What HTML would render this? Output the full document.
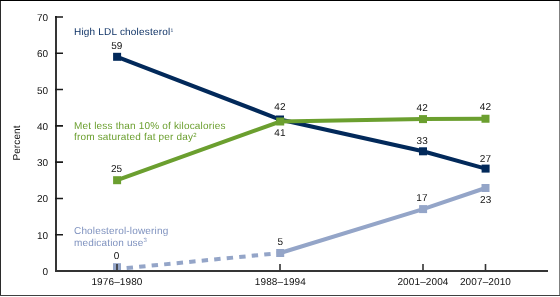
<!DOCTYPE html>
<html><head><meta charset="utf-8">
<style>
html,body{margin:0;padding:0;background:#fff;}
body{width:560px;height:297px;overflow:hidden;}
svg{display:block;}
#wrap{position:absolute;left:0;top:0;width:560px;height:297px;will-change:transform;background:#fff;}
text{font-family:"Liberation Sans",sans-serif;text-rendering:geometricPrecision;}
</style></head><body><div id="wrap">
<svg width="560" height="297" viewBox="0 0 560 297">
<rect x="0" y="0" width="560" height="297" fill="#fff"/>
<!-- border -->
<path d="M559.5 0V295" stroke="#808080" stroke-width="1"/>
<path d="M0.5 0V296" stroke="#2b2b2b" stroke-width="1"/>
<path d="M0 295.5H560" stroke="#404040" stroke-width="1"/>
<path d="M0 0.5H560" stroke="#000" stroke-width="1"/>

<!-- axes -->
<g stroke="#353535" stroke-width="2" fill="none">
  <path d="M56 16V272"/>
  <path d="M55 271H548"/>
</g>
<g stroke="#1a1a1a" stroke-width="1.6" fill="none">
  <path d="M55 17H63M55 53.29H63M55 89.57H63M55 125.86H63M55 162.14H63M55 198.43H63M55 234.71H63"/>
</g>
<g stroke="#333" stroke-width="1.6" fill="none">
  <path d="M117 264V271M280 264V271M423 264V271M485.5 264V271"/>
</g>

<!-- y labels -->
<g font-size="10" fill="#111" text-anchor="end">
  <text x="48" y="21">70</text>
  <text x="48" y="57.3">60</text>
  <text x="48" y="93.6">50</text>
  <text x="48" y="129.9">40</text>
  <text x="48" y="166.1">30</text>
  <text x="48" y="202.4">20</text>
  <text x="48" y="238.7">10</text>
  <text x="48" y="275">0</text>
</g>
<text font-size="10" letter-spacing="0.1" fill="#111" text-anchor="middle" transform="translate(19.8,143) rotate(-90)">Percent</text>

<!-- x labels -->
<g font-size="10" letter-spacing="0.12" fill="#111" text-anchor="middle">
  <text x="117" y="285.3">1976–1980</text>
  <text x="280.4" y="285.3">1988–1994</text>
  <text x="423" y="285.3">2001–2004</text>
  <text x="485.5" y="285.3">2007–2010</text>
</g>

<!-- series: light blue -->
<g fill="#94a5c8" stroke="none">
  <rect x="113" y="263.2" width="8" height="8"/>
</g>
<path d="M117 269L280.2 253" stroke="#94a5c8" stroke-width="4" fill="none" stroke-dasharray="6.4 6.17" stroke-dashoffset="2.9"/>
<path d="M280.2 253L423.1 209.1L485.5 188" stroke="#94a5c8" stroke-width="4" fill="none"/>
<g fill="#94a5c8">
  <rect x="276.2" y="249" width="8" height="8"/>
  <rect x="419.1" y="205.1" width="8" height="8"/>
  <rect x="481.5" y="184" width="8" height="8"/>
</g>
<!-- redraw axis over marker 0 -->
<path d="M55 271H130" stroke="#333" stroke-width="2"/>
<path d="M117 264V271" stroke="#333" stroke-width="1.6"/>

<!-- navy -->
<path d="M117.1 56.8L280 119.5L423 151.3L485.6 168.6" stroke="#02295a" stroke-width="4" fill="none"/>
<g fill="#02295a">
  <rect x="113.1" y="52.8" width="8" height="8"/>
  <rect x="276" y="115.5" width="8" height="8"/>
  <rect x="419" y="147.3" width="8" height="8"/>
  <rect x="481.6" y="164.6" width="8" height="8"/>
</g>

<!-- green -->
<path d="M117.1 180.2L280.2 121.5L423 119.1L485.5 118.75" stroke="#6b9f2f" stroke-width="4" fill="none"/>
<g fill="#6b9f2f">
  <rect x="113.1" y="176.2" width="8" height="8"/>
  <rect x="276.2" y="117.5" width="8" height="8"/>
  <rect x="419" y="115.1" width="8" height="8"/>
  <rect x="481.5" y="114.75" width="8" height="8"/>
</g>

<!-- data labels -->
<g font-size="10" letter-spacing="0.1" fill="#111" text-anchor="middle">
  <text x="116.8" y="48.8">59</text>
  <text x="280" y="110.2">42</text>
  <text x="422.2" y="143.7">33</text>
  <text x="485.5" y="161.8">27</text>
  <text x="116.6" y="171.8">25</text>
  <text x="280" y="136.2">41</text>
  <text x="422.2" y="110.8">42</text>
  <text x="485.5" y="110.1">42</text>
  <text x="116.7" y="259.1">0</text>
  <text x="280.3" y="245">5</text>
  <text x="422" y="201.4">17</text>
  <text x="485.7" y="203">23</text>
</g>

<!-- legend labels -->
<text x="74" y="35.3" font-size="10" letter-spacing="0.2" fill="#0e3265">High LDL cholesterol<tspan font-size="5" letter-spacing="0" dy="-3.4">1</tspan></text>
<g font-size="10" letter-spacing="0.18" fill="#6b9f2f">
  <text x="74" y="128.8">Met less than 10% of kilocalories</text>
  <text x="74" y="140.1">from saturated fat per day<tspan font-size="6" letter-spacing="0" dy="-3.5">2</tspan></text>
</g>
<g font-size="10" letter-spacing="0.16" fill="#7f92bf">
  <text x="74" y="234.4">Cholesterol-lowering</text>
  <text x="74" y="245.8">medication use<tspan font-size="6" letter-spacing="0" dy="-3.5">3</tspan></text>
</g>
</svg></div>
</body></html>
